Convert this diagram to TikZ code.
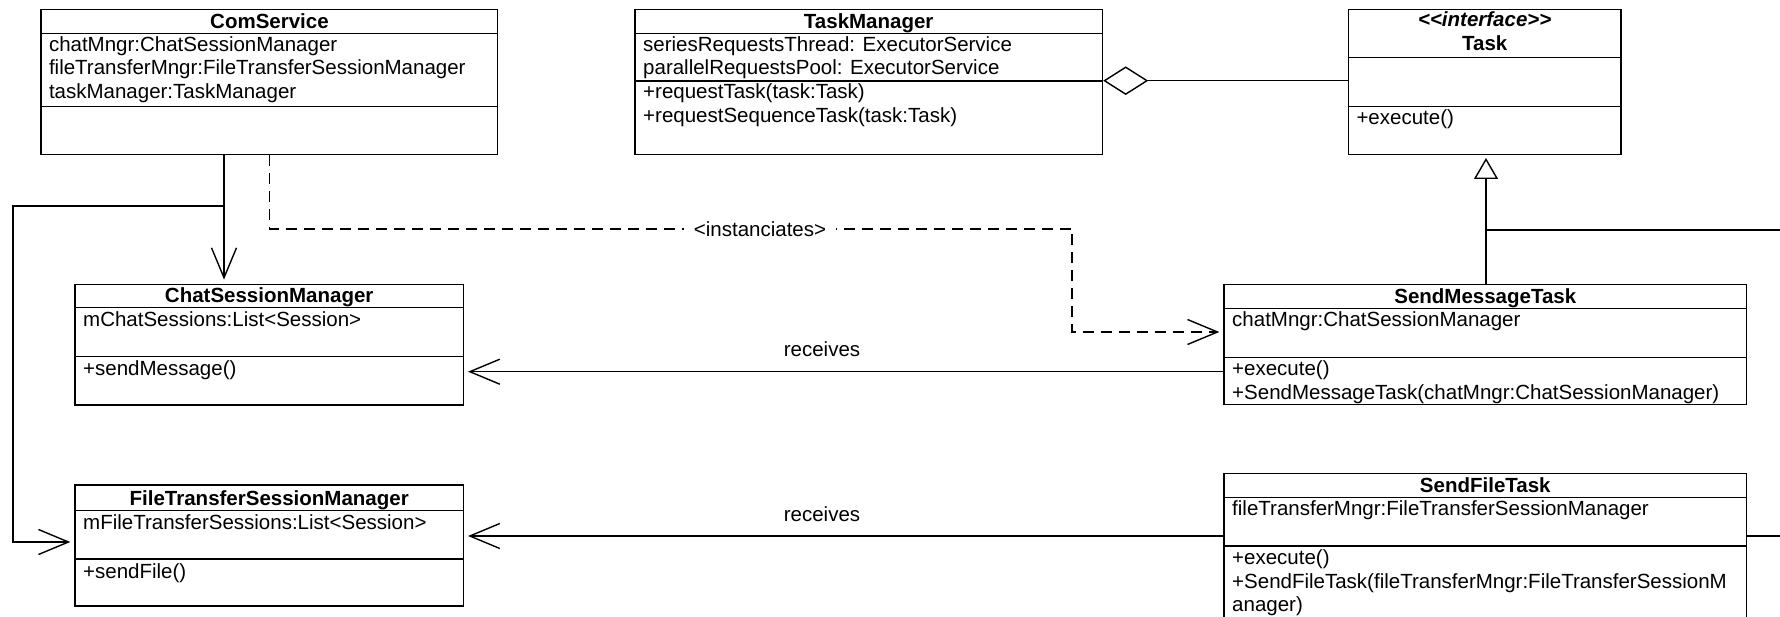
\documentclass[tikz,border=0pt]{standalone}
\usepackage{fontspec}
\setmainfont{Liberation Sans}
\usetikzlibrary{arrows.meta,fit}

\begin{document}
\begin{tikzpicture}[x=1pt,y=-1pt,
  font=\fontsize{20.5}{23.3}\selectfont,
  line width=1.4pt,
  umlbox/.style={draw, inner sep=0pt, line width=1.4pt, fit={#1}},
  classname/.style={anchor=base, inner sep=0pt, font=\fontsize{20.5}{23.3}\selectfont\bfseries},
  member/.style={anchor=base west, inner sep=0pt},
  openhead/.style={-{Straight Barb[length=30pt,width=25pt]}, shorten >=4pt},
  depline/.style={dash pattern=on 11pt off 7pt},
  gentip/.style={-{Triangle[open,length=21pt,width=24pt]}, shorten >=3pt},
  aggtip/.style={{Diamond[open,length=45pt,width=28.6pt]}-},
  lbl/.style={anchor=base, inner sep=0pt}
]
\path[use as bounding box] (0,0) rectangle (1780,617);
\clip (0,0) rectangle (1780,617);

% ---------- ComService ----------
\node[umlbox={(41,9.3)(497.7,154.3)}] (cs) {};
\draw (cs.west |- 0,33.3) -- (cs.east |- 0,33.3);
\draw (cs.west |- 0,106.7) -- (cs.east |- 0,106.7);
\node[classname] (cs-t) at (269.5,28.3) {ComService};
\node[member] (cs-a1) at (48.3,51.7) {chatMngr:ChatSessionManager};
\node[member] (cs-a2) at (48.3,75) {fileTransferMngr:FileTransferSessionManager};
\node[member] (cs-a3) at (48.3,98.3) {taskManager:TaskManager};

% ---------- TaskManager ----------
\node[umlbox={(635,9.3)(1102.5,154.3)}] (tm) {};
\draw (tm.west |- 0,33.3) -- (tm.east |- 0,33.3);
\draw (tm.west |- 0,81) -- (tm.east |- 0,81);
\node[classname] (tm-t) at (868.7,28.3) {TaskManager};
\node[member] (tm-a1) at (642.5,52) {seriesRequestsThread: ExecutorService};
\node[member] (tm-a2) at (642.5,75) {parallelRequestsPool: ExecutorService};
\node[member] (tm-m1) at (642.5,99) {+requestTask(task:Task)};
\node[member] (tm-m2) at (642.5,122.3) {+requestSequenceTask(task:Task)};

% ---------- Task (interface) ----------
\node[umlbox={(1348.3,9.3)(1621,154.3)}] (task) {};
\draw (task.west |- 0,57.3) -- (task.east |- 0,57.3);
\draw (task.west |- 0,106.7) -- (task.east |- 0,106.7);
\node[classname, font=\fontsize{20.5}{23.3}\selectfont\bfseries\itshape] (task-s) at (1484.7,26.7) {<\kern0pt<interface>\kern0pt>};
\node[classname] (task-t) at (1484.7,50.7) {Task};
\node[member] (task-m1) at (1355.8,125) {+execute()};

% ---------- ChatSessionManager ----------
\node[umlbox={(75,284.3)(463.3,405)}] (csm) {};
\draw (csm.west |- 0,307.7) -- (csm.east |- 0,307.7);
\draw (csm.west |- 0,356.7) -- (csm.east |- 0,356.7);
\node[classname] (csm-t) at (269.2,303) {ChatSessionManager};
\node[member] (csm-a1) at (82.5,326.7) {mChatSessions:List<Session>};
\node[member] (csm-m1) at (82.5,375.7) {+sendMessage()};

% ---------- SendMessageTask ----------
\node[umlbox={(1224,284.3)(1746.7,404.3)}] (smt) {};
\draw (smt.west |- 0,308.3) -- (smt.east |- 0,308.3);
\draw (smt.west |- 0,357.3) -- (smt.east |- 0,357.3);
\node[classname] (smt-t) at (1485.3,303.3) {SendMessageTask};
\node[member] (smt-a1) at (1231.5,326.7) {chatMngr:ChatSessionManager};
\node[member] (smt-m1) at (1231.5,376) {+execute()};
\node[member] (smt-m2) at (1231.5,399.3) {+SendMessageTask(chatMngr:ChatSessionManager)};

% ---------- FileTransferSessionManager ----------
\node[umlbox={(75,485)(463.3,606)}] (ftsm) {};
\draw (ftsm.west |- 0,510.7) -- (ftsm.east |- 0,510.7);
\draw (ftsm.west |- 0,559) -- (ftsm.east |- 0,559);
\node[classname] (ftsm-t) at (269.2,505.7) {FileTransferSessionManager};
\node[member] (ftsm-a1) at (82.5,529.3) {mFileTransferSessions:List<Session>};
\node[member] (ftsm-m1) at (82.5,578) {+sendFile()};

% ---------- SendFileTask (runs past the lower edge) ----------
\node[umlbox={(1224,473.3)(1746.7,640)}] (sft) {};
\draw (sft.west |- 0,497.3) -- (sft.east |- 0,497.3);
\draw (sft.west |- 0,546) -- (sft.east |- 0,546);
\node[classname] (sft-t) at (1485.3,492.3) {SendFileTask};
\node[member] (sft-a1) at (1231.5,515.5) {fileTransferMngr:FileTransferSessionManager};
\node[member] (sft-m1) at (1231.5,564.8) {+execute()};
\node[member] (sft-m2) at (1231.5,588.1) {+SendFileTask(fileTransferMngr:FileTransferSessionM};
\node[member] (sft-m3) at (1231.5,611.4) {anager)};

% ---------- routing points ----------
\coordinate (xa) at (224,0);
\coordinate (jn) at (224,206);
\coordinate (bend) at (13,206);
\coordinate (xd) at (269.5,0);
\coordinate (dturn) at (1072,229);
\coordinate (xg) at (1486,0);
\coordinate (offr1) at (1790,230);
\coordinate (offr2) at (1790,536);

% ComService -> ChatSessionManager / FileTransferSessionManager
\draw[openhead] (cs.south -| xa) -- (csm.north -| xa);
\draw[openhead] (jn) -- (bend) |- (ftsm.west |- 0,542);

% ComService instanciates SendMessageTask
\draw[depline, openhead] (cs.south -| xd) |- (dturn) |- (smt.west |- 0,332);
\node[fill=white, inner xsep=10pt, inner ysep=3pt] (inst) at (760,229) {<instanciates>};

% receives associations
\draw[openhead] (smt.west |- 0,371.7) -- (csm.east |- 0,371.7);
\node[lbl] (rcv1) at (822,356.7) {receives};
\draw[openhead] (sft.west |- 0,536) -- (ftsm.east |- 0,536);
\node[lbl] (rcv2) at (822,521.7) {receives};

% TaskManager aggregates Task
\draw[aggtip] (tm.east |- 0,80.7) -- (task.west |- 0,80.7);

% realisation of Task
\draw[gentip] (smt.north -| xg) -- (task.south -| xg);
\draw (xg |- 0,230) -- (offr1);
\draw (sft.east |- 0,536) -- (offr2);
\end{tikzpicture}
\end{document}
